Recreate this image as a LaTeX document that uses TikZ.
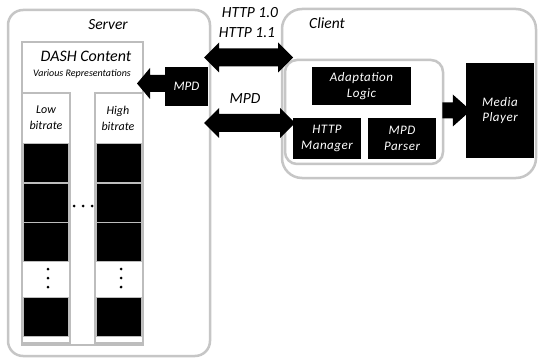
\documentclass[tikz,border=0pt]{standalone}
\usepackage{fontspec}
\setmainfont{Carlito}
\usetikzlibrary{calc}
\definecolor{bordergray}{HTML}{C6C6C6}
\definecolor{colgray}{HTML}{BDBDBD}
% left-pointing single arrow: start, tip, shaft half, head half, head length
\newcommand\myLArrow[5]{%
  \fill ($(#1)+(0,-#3)$) -- ($(#2)+(#5,-#3)$) -- ($(#2)+(#5,-#4)$) -- (#2)
    -- ($(#2)+(#5,#4)$) -- ($(#2)+(#5,#3)$) -- ($(#1)+(0,#3)$) -- cycle;}
% right-pointing single arrow: start, tip, shaft half, head half, head length
\newcommand\myRArrow[5]{%
  \fill ($(#1)+(0,-#3)$) -- ($(#2)+(-#5,-#3)$) -- ($(#2)+(-#5,-#4)$) -- (#2)
    -- ($(#2)+(-#5,#4)$) -- ($(#2)+(-#5,#3)$) -- ($(#1)+(0,#3)$) -- cycle;}
% double arrow: left tip, right tip, shaft half, head half, head length
\newcommand\myDArrow[5]{%
  \fill (#1) -- ($(#1)+(#5,-#4)$) -- ($(#1)+(#5,-#3)$) -- ($(#2)+(-#5,-#3)$)
    -- ($(#2)+(-#5,-#4)$) -- (#2) -- ($(#2)+(-#5,#4)$) -- ($(#2)+(-#5,#3)$)
    -- ($(#1)+(#5,#3)$) -- ($(#1)+(#5,#4)$) -- cycle;}
\begin{document}
\begin{tikzpicture}[x=1pt,y=-1pt,
  every node/.style={font=\itshape},
  panel/.style={draw=bordergray, line width=2.5pt, fill=white, inner sep=0pt},
  col/.style={draw=colgray, line width=2pt, fill=white, inner sep=0pt},
  blk/.style={fill=black, draw=colgray, line width=0.8pt, minimum width=45pt, minimum height=39pt, inner sep=0pt},
  bbox/.style={fill=black, text=white, align=center, inner sep=0pt, font=\itshape\fontsize{13}{15.5}\selectfont\addfontfeatures{LetterSpace=4}},
  lbl/.style={font=\itshape\fontsize{15.5}{17}\selectfont, inner sep=0pt},
  dotc/.style={fill=black, circle, inner sep=0pt, minimum size=3pt},
]
\useasboundingbox (0,0) rectangle (539,361);

% Server
\node[panel, rounded corners=15pt, minimum width=202pt, minimum height=346pt] (server) at (109,183) {};
\node[lbl] (serverlbl) at (108,25) {Server};

% DASH content
\node[col, minimum width=121pt, minimum height=303pt] (dash) at (82.5,193.5) {};
\node[col, minimum width=48pt, minimum height=250pt] (lowcol) at (46,218) {};
\node[col, minimum width=48pt, minimum height=250pt] (highcol) at (119,218) {};
\node[inner sep=0pt, font=\itshape\fontsize{16}{18}\selectfont] (dashtitle) at (86,56) {DASH Content};
\node[inner sep=0pt, font=\itshape\fontsize{10}{11}\selectfont] (various) at (82,74) {Various Representations};
\node[inner sep=0pt, align=center, font=\itshape\fontsize{12}{16}\selectfont] (lowlbl) at (46,118) {Low\\bitrate};
\node[inner sep=0pt, align=center, font=\itshape\fontsize{12}{16}\selectfont] (highlbl) at (118,118) {High\\bitrate};

\foreach \c/\n in {46/l,119/h}{
  \node[blk] (\n b1) at (\c,163) {};
  \node[blk] (\n b2) at (\c,202.5) {};
  \node[blk] (\n b3) at (\c,242) {};
  \node[blk] (\n b4) at (\c,317) {};
}
% vertical and horizontal ellipses
\foreach \yy [count=\i] in {269,278,287}{
  \node[dotc] (lvd\i) at (48,\yy) {};
  \node[dotc] (hvd\i) at (121,\yy) {};
}
\foreach \xx [count=\i] in {74,83,92}{
  \node[dotc] (hd\i) at (\xx,206) {};
}

% Server MPD box
\node[bbox, minimum width=43pt, minimum height=39pt, font=\itshape\fontsize{13}{15}\selectfont] (mpdS) at (186.5,86.5) {MPD};

% Client
\node[panel, rounded corners=20pt, minimum width=254pt, minimum height=169pt] (client) at (409,93.5) {};
\node[lbl] (clientlbl) at (327,23) {Client};
\node[panel, rounded corners=12pt, minimum width=158pt, minimum height=104pt] (inner) at (364,112) {};
\node[bbox, minimum width=99pt, minimum height=38pt] (adapt) at (361.5,86) {Adaptation\\Logic};
\node[bbox, minimum width=68pt, minimum height=41pt] (httpm) at (327,138.5) {HTTP\\Manager};
\node[bbox, minimum width=68pt, minimum height=41pt] (mpdp) at (402,138.5) {MPD\\Parser};
\node[bbox, minimum width=68pt, minimum height=95pt] (media) at (500,110.5) {Media\\Player};

% labels between
\node[lbl] (http10) at (250,13) {HTTP 1.0};
\node[lbl] (http11) at (247,33) {HTTP 1.1};
\node[lbl] (mpdlbl) at (245,99) {MPD};

% arrows
\coordinate (a1s) at ($(mpdS.west)+(0,-3)$);
\coordinate (a1t) at (137,83.5);
\myLArrow{a1s}{a1t}{8.5}{15.5}{13}
\coordinate (h1l) at (204,57.5);
\coordinate (h1r) at (293,57.5);
\myDArrow{h1l}{h1r}{9}{15}{15}
\coordinate (h2l) at (204,123);
\coordinate (h2r) at (295,123);
\myDArrow{h2l}{h2r}{9}{15}{15}
\coordinate (a2s) at ($(inner.east)+(-2,-1.5)$);
\coordinate (a2t) at ($(media.west)+(5,0)$);
\myRArrow{a2s}{a2t}{8}{16}{18}
\end{tikzpicture}
\end{document}
